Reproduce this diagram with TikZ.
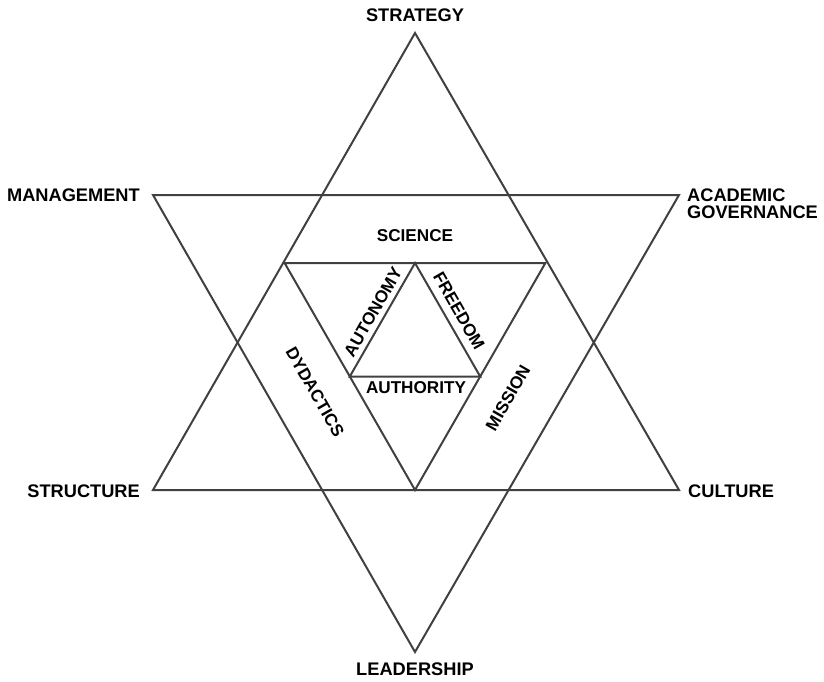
\documentclass[tikz,border=0pt]{standalone}
\usepackage{fontspec}
\setmainfont{Liberation Sans}
\begin{document}
\begin{tikzpicture}[x=1bp,y=-1bp,
  edge/.style={draw=linegray,line width=2bp,line join=miter},
  lbl/.style={font=\fontsize{18.3}{20}\selectfont\bfseries,inner sep=0pt,text=black},
  ilbl/.style={font=\fontsize{17.2}{19}\selectfont\bfseries,inner sep=0pt,text=black}]
\definecolor{linegray}{HTML}{404040}
\useasboundingbox (0,0) rectangle (824,682);
% outer up triangle
\coordinate (uT) at (415,33);
\coordinate (uL) at (153,490);
\coordinate (uR) at (679,490);
% outer down triangle
\coordinate (dL) at (153,195);
\coordinate (dR) at (679,195);
\coordinate (dB) at (415,652);
% inner down triangle
\coordinate (iL) at (284.6,263);
\coordinate (iR) at (545.4,263);
\coordinate (iB) at (415,490);
% innermost up triangle
\coordinate (mT) at (415,263);
\coordinate (mL) at (349.8,376.5);
\coordinate (mR) at (480.2,376.5);
\draw[edge] (uT) -- (uL) -- (uR) -- cycle;
\draw[edge] (dL) -- (dR) -- (dB) -- cycle;
\draw[edge] (iL) -- (iR) -- (iB) -- cycle;
\draw[edge] (mT) -- (mL) -- (mR) -- cycle;
% outer labels
\node[lbl] (strategy) at (415,15.5) {STRATEGY};
\node[lbl,anchor=east] (management) at (140,195) {MANAGEMENT};
\node[lbl,anchor=west,align=left] (academic) at (687,204) {ACADEMIC\\[-2.5bp]GOVERNANCE};
\node[lbl,anchor=east] (structure) at (140,491) {STRUCTURE};
\node[lbl,anchor=west] (culture) at (688,491) {CULTURE};
\node[lbl] (leadership) at (415,669) {LEADERSHIP};
% inner labels
\node[ilbl] (science) at (415,235.5) {SCIENCE};
\node[ilbl] (authority) at (416,388) {AUTHORITY};
\node[ilbl,rotate=60.2] (autonomy) at (373,312) {AUTONOMY};
\node[ilbl,rotate=-60.2] (freedom) at (459,311) {FREEDOM};
\node[ilbl,rotate=-60.2] (dydactics) at (315,392) {DYDACTICS};
\node[ilbl,rotate=60.2] (mission) at (508,398) {MISSION};
\end{tikzpicture}
\end{document}
